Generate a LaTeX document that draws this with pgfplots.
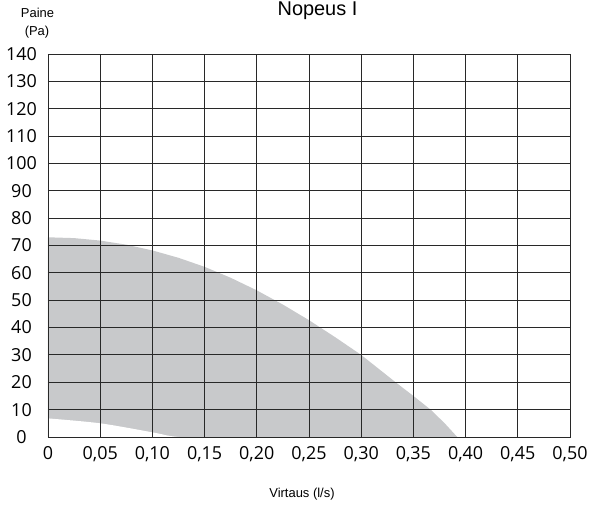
\documentclass[border=0pt]{standalone}
\usepackage{pgfplots}
\pgfplotsset{compat=1.18}
\usepackage{fontspec}
\setmainfont{Liberation Sans}
\newfontfamily\tickfont{Open Sans}
\definecolor{fillgray}{RGB}{200,201,203}
\definecolor{gridc}{RGB}{40,40,40}
\begin{document}
\begin{tikzpicture}
\begin{axis}[
  at={(0,0)}, anchor=south west,
  scale only axis, width=522bp, height=383bp,
  xmin=0, xmax=0.5, ymin=0, ymax=140,
  xtick={0,0.05,0.1,0.15,0.2,0.25,0.3,0.35,0.4,0.45,0.5},
  xticklabels={0,{0,05},{0,10},{0,15},{0,20},{0,25},{0,30},{0,35},{0,40},{0,45},{0,50}},
  ytick={0,10,20,30,40,50,60,70,80,90,100,110,120,130,140},
  yticklabels={0,10,20,30,40,50,60,70,80,90,100,110,120,130,140},
  /pgf/number format/assume math mode=true,
  grid=major, major grid style={gridc, line width=0.9bp},
  axis line style={gridc, line width=0.9bp},
  major tick length=0pt,
  axis on top,
  ticklabel style={font=\tickfont\fontsize{18}{20}\selectfont, inner sep=0pt},
  yticklabel style={anchor=center, xshift=-26.5bp},
  xticklabel style={anchor=base, yshift=-22bp},
]
\addplot[fill=fillgray, draw=none] coordinates {
  (0,73) (0.025,72.7) (0.05,71.8) (0.075,70.3) (0.10,68.2) (0.125,65.5) (0.15,62.2)
  (0.175,58.2) (0.20,53.6) (0.225,48.4) (0.25,42.7) (0.275,36.5) (0.30,30)
  (0.3165,25) (0.333,20) (0.35,15) (0.3665,10) (0.38,5) (0.392,0)
} \closedcycle;
\addplot[fill=white, draw=none, smooth] coordinates {
  (0,6.8) (0.05,5) (0.10,1.7) (0.115,0.5) (0.125,0)
} \closedcycle;
\end{axis}
\node[anchor=base, font=\fontsize{20}{22}\selectfont] at (269.5bp,421bp) {Nopeus I};
\node[anchor=base, font=\fontsize{13}{15}\selectfont] at (-10.5bp,419bp) {Paine};
\node[anchor=base, font=\fontsize{13}{15}\selectfont] at (-11bp,401bp) {(Pa)};
\node[anchor=base, font=\fontsize{13}{15}\selectfont] at (254bp,-60bp) {Virtaus (l/s)};
\pgfresetboundingbox
\path[use as bounding box] (-48bp,-70bp) rectangle (544bp,437bp);
\end{tikzpicture}
\end{document}
